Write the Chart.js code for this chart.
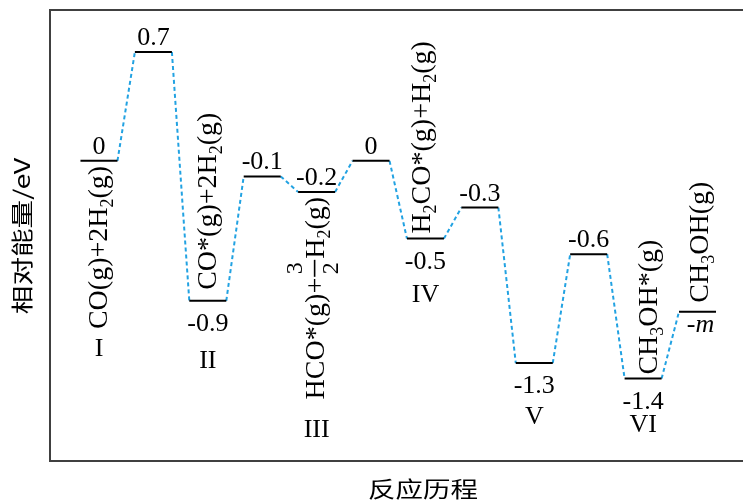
<!DOCTYPE html>
<html>
<head>
<meta charset="utf-8">
<script src="https://cdn.jsdelivr.net/npm/chart.js@4.4.0/dist/chart.umd.min.js"></script>
<style>
  html, body { margin: 0; padding: 0; background: #fff; overflow: hidden; }
  #wrap { width: 800px; height: 504px; }
</style>
</head>
<body>
<div id="wrap"><canvas id="energyChart"></canvas></div>
<script>
// reaction steps (x index) and relative energies (eV)
var steps = [0, 1, 2, 3, 4, 5, 6, 7, 8, 9, 10, 11];
var energies = [0, 0.7, -0.9, -0.1, -0.2, 0, -0.5, -0.3, -1.3, -0.6, -1.4, -0.97];
var energyLabels = ['0', '0.7', '-0.9', '-0.1', '-0.2', '0', '-0.5', '-0.3', '-1.3', '-0.6', '-1.4', '-m'];
var labelBelow = [false, false, true, false, false, false, true, false, true, false, true, true];

// intermediates
var stateNames = ['I', 'II', 'III', 'IV', 'V', 'VI'];
var stateSteps = [0, 2, 4, 6, 8, 10];

// species (segments: plain text, subscript, fraction)
var speciesSteps = [0, 2, 4, 6, 10, 11];
var speciesText = [
  [['CO(g)+2H'], ['2', 'sub'], ['(g)']],
  [['CO*(g)+2H'], ['2', 'sub'], ['(g)']],
  [['HCO*(g)+'], ['3', '2', 'frac'], ['H'], ['2', 'sub'], ['(g)']],
  [['H'], ['2', 'sub'], ['CO*(g)+H'], ['2', 'sub'], ['(g)']],
  [['CH'], ['3', 'sub'], ['OH*(g)']],
  [['CH'], ['3', 'sub'], ['OH(g)']]
];

var xTitle = '反应历程';
var yTitle = '相对能量/eV';

// drawing layout
var halfW = 0.34;
var serif = '"Liberation Serif", "Times New Roman", serif';
var cjk = '"Noto Sans CJK SC", "Noto Sans", sans-serif';
var speciesLayout = [
  { dx: 8, align: 'end', gap: 5 },
  { dx: 8, align: 'start', gap: 11 },
  { dx: 7, align: 'end', gap: 5 },
  { dx: 5, align: 'start', gap: 5 },
  { dx: 14, align: 'start', gap: 4 },
  { dx: 10, align: 'start', gap: 9 }
];
var stateOffset = [188, 60, 238, 57, 54, 47];

var levelPts = [];
var linkPts = [];
steps.forEach(function (s, i) {
  levelPts.push({ x: s - halfW, y: energies[i] }, { x: s + halfW, y: energies[i] }, { x: s + halfW, y: null });
  if (i < steps.length - 1) {
    linkPts.push({ x: s + halfW, y: energies[i] }, { x: steps[i + 1] - halfW, y: energies[i + 1] }, { x: steps[i + 1] - halfW, y: null });
  }
});

function segWidth(ctx, seg) {
  if (seg[1] === 'sub') { ctx.font = '18px ' + serif; return ctx.measureText(seg[0]).width; }
  if (seg[2] === 'frac') { ctx.font = '24px ' + serif; return ctx.measureText(seg[0]).width + 7; }
  ctx.font = '28px ' + serif; return ctx.measureText(seg[0]).width;
}

function drawSpecies(ctx, segs, bx, startY) {
  ctx.save();
  ctx.translate(bx, startY);
  ctx.rotate(-Math.PI / 2);
  ctx.fillStyle = '#000';
  ctx.textAlign = 'left';
  ctx.textBaseline = 'alphabetic';
  var x = 0;
  segs.forEach(function (seg) {
    var w = segWidth(ctx, seg);
    if (seg[1] === 'sub') {
      ctx.fillText(seg[0], x, 6);
    } else if (seg[2] === 'frac') {
      ctx.fillText(seg[0], x + 3.5, -22);
      ctx.fillText(seg[1], x + 3.5, 14);
      ctx.strokeStyle = '#000';
      ctx.lineWidth = 1.6;
      ctx.beginPath();
      ctx.moveTo(x + 1, -9);
      ctx.lineTo(x + w - 1, -9);
      ctx.stroke();
    } else {
      ctx.fillText(seg[0], x, 0);
    }
    x += w;
  });
  ctx.restore();
}

function totalWidth(ctx, segs) {
  var t = 0;
  segs.forEach(function (seg) { t += segWidth(ctx, seg); });
  return t;
}

var annotations = {
  id: 'annotations',
  afterDraw: function (chart) {
    var ctx = chart.ctx;
    var xs = chart.scales.x, ys = chart.scales.y;
    var a = chart.chartArea;

    ctx.save();
    // frame
    ctx.strokeStyle = '#404040';
    ctx.lineWidth = 2;
    ctx.strokeRect(a.left, a.top, a.right - a.left, a.bottom - a.top);

    // energy values
    ctx.fillStyle = '#000';
    ctx.textAlign = 'center';
    ctx.textBaseline = 'alphabetic';
    energyLabels.forEach(function (lab, i) {
      var px = xs.getPixelForValue(steps[i]);
      var py = ys.getPixelForValue(energies[i]);
      if (lab === '-m') {
        ctx.font = '26px ' + serif;
        var w1 = ctx.measureText('-').width;
        ctx.font = 'italic 26px ' + serif;
        var w2 = ctx.measureText('m').width;
        var x0 = px + 3 - (w1 + w2) / 2;
        ctx.textAlign = 'left';
        ctx.font = '26px ' + serif;
        ctx.fillText('-', x0, py + 20);
        ctx.font = 'italic 26px ' + serif;
        ctx.fillText('m', x0 + w1, py + 20);
        ctx.textAlign = 'center';
        return;
      }
      ctx.font = '26px ' + serif;
      ctx.fillText(lab, px, labelBelow[i] ? py + 30 : py - 7);
    });

    // state numerals
    ctx.font = '26px ' + serif;
    ctx.textBaseline = 'middle';
    stateNames.forEach(function (nm, k) {
      var i = stateSteps[k];
      var px = xs.getPixelForValue(steps[i]);
      var py = ys.getPixelForValue(energies[i]);
      ctx.fillText(nm, px, py + stateOffset[k]);
    });

    // species, rotated
    speciesText.forEach(function (segs, k) {
      var i = speciesSteps[k];
      var L = speciesLayout[k];
      var px = xs.getPixelForValue(steps[i]) + L.dx;
      var py = ys.getPixelForValue(energies[i]);
      var w = totalWidth(ctx, segs);
      var startY = L.align === 'end' ? py + L.gap + w : py - L.gap;
      drawSpecies(ctx, segs, px, startY);
    });

    // axis titles
    ctx.fillStyle = '#000';
    ctx.textAlign = 'center';
    ctx.textBaseline = 'middle';
    ctx.font = '22px ' + cjk;
    ctx.save();
    ctx.translate((a.left + a.right) / 2, 489);
    ctx.scale(1.25, 1);
    ctx.fillText(xTitle, 0, 0);
    ctx.restore();

    ctx.save();
    ctx.translate(22, 236);
    ctx.rotate(-Math.PI / 2);
    ctx.scale(1.3, 1);
    ctx.fillText(yTitle, 0, 0);
    ctx.restore();

    ctx.restore();
  }
};

var ctx = document.getElementById('energyChart').getContext('2d');

var energyChart = new Chart(ctx, {
  type: 'line',
  data: {
    datasets: [{
      label: 'levels',
      data: levelPts,
      borderColor: '#000',
      borderWidth: 2,
      pointRadius: 0,
      spanGaps: false,
      fill: false
    }, {
      label: 'links',
      data: linkPts,
      borderColor: '#22a2e2',
      borderWidth: 2,
      borderDash: [4, 3],
      pointRadius: 0,
      spanGaps: false,
      fill: false
    }]
  },
  options: {
    responsive: true,
    maintainAspectRatio: false,
    animation: false,
    layout: { padding: { left: 50, top: 10, right: 4, bottom: 43 } },
    plugins: { legend: { display: false }, tooltip: { enabled: false } },
    scales: {
      x: { type: 'linear', min: -0.9, max: 12.81, display: false },
      y: { type: 'linear', min: -1.93, max: 0.97, display: false }
    }
  },
  plugins: [annotations]
});
</script>
</body>
</html>
